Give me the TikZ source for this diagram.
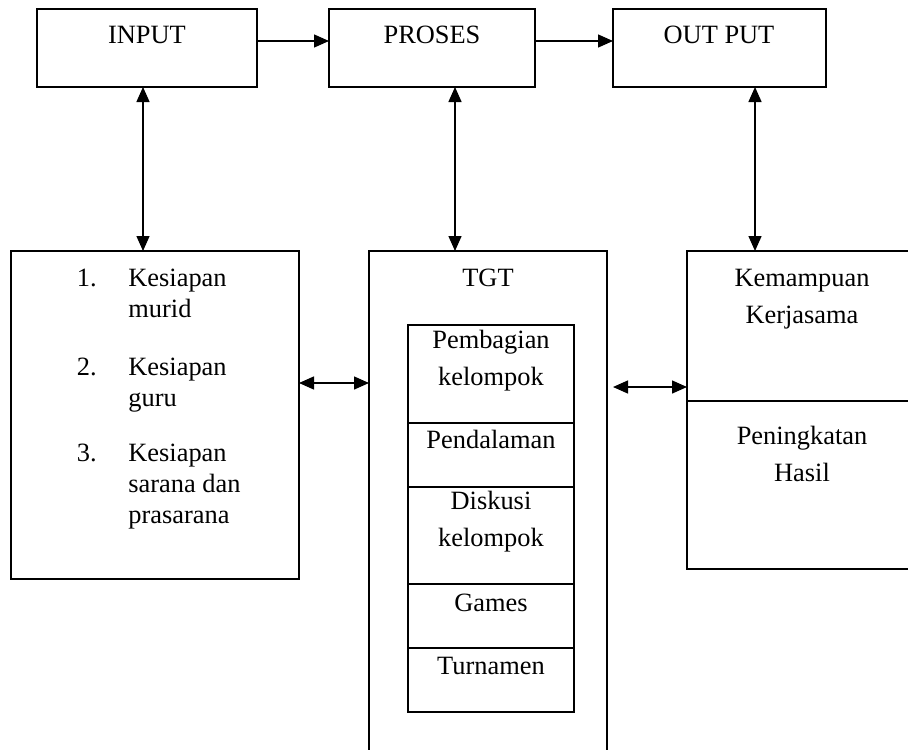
\documentclass[tikz,border=0pt]{standalone}
\usepackage{fontspec}
\setmainfont{Liberation Serif}
\usetikzlibrary{arrows.meta,positioning}

\begin{document}
\begin{tikzpicture}[x=0.5pt, y=-0.5pt,
    kotak/.style={draw, line width=0.9pt, inner sep=0pt, outer sep=0pt},
    fase/.style={draw, line width=1pt, inner sep=0pt, outer sep=0pt, minimum width=83pt},
    teks/.style={anchor=base, inner sep=0pt, align=center, font=\fontsize{13.2}{18.5}\selectfont},
    daftar/.style={inner sep=0pt, align=left, font=\fontsize{13.2}{15.5}\selectfont},
    panah/.style={line width=0.7pt, -{Triangle[length=7.5pt,width=6.5pt]}},
    duapanah/.style={line width=0.7pt, {Triangle[length=7.5pt,width=6.5pt]}-{Triangle[length=7.5pt,width=6.5pt]}}]

    % Frame
    \useasboundingbox (0,0) rectangle (908,749);
    \clip (0,0) rectangle (908,749);

    % Top row
    \node[kotak, minimum width=110pt, minimum height=39pt] (input) at (147,48) {};
    \node[kotak, minimum width=103pt, minimum height=39pt] (proses) at (432,48) {};
    \node[kotak, minimum width=106.5pt, minimum height=39pt] (output) at (719.5,48) {};

    \node[teks] (tInput) at (147,44) {INPUT};
    \node[teks] (tProses) at (432,44) {PROSES};
    \node[teks] (tOutput) at (719,44) {OUT PUT};

    % Bottom row
    \node[kotak, minimum width=144pt, minimum height=164pt] (siap) at (155,415) {};
    \node[kotak, line width=0.7pt, minimum width=119pt, minimum height=260pt] (tgt) at (488,511) {};
    \node[kotak, minimum width=114pt, minimum height=159pt] (hasil) at (801,410) {};

    % Divider in the right box
    \coordinate (garis) at (0,401);
    \draw[line width=0.9pt] (hasil.west |- garis) -- (hasil.east |- garis);

    % Steps of TGT
    \node[fase, minimum height=49pt, below=37pt of tgt.north, xshift=1.5pt] (f1) {};
    \node[fase, minimum height=32pt, below=0pt of f1] (f2) {};
    \node[fase, minimum height=48.5pt, below=0pt of f2] (f3) {};
    \node[fase, minimum height=32pt, below=0pt of f3] (f4) {};
    \node[fase, minimum height=32pt, below=0pt of f4] (f5) {};

    % Labels (base = last line)
    \node[teks] (tTgt) at (488,286) {TGT};
    \node[teks] (tF1) at (491,385) {Pembagian\\kelompok};
    \node[teks] (tF2) at (491,448) {Pendalaman};
    \node[teks] (tF3) at (491,546) {Diskusi\\kelompok};
    \node[teks] (tF4) at (491,611) {Games};
    \node[teks] (tF5) at (491,674) {Turnamen};

    \node[teks] (tKerja) at (802,323) {Kemampuan\\Kerjasama};
    \node[teks] (tHasil) at (802,481) {Peningkatan\\Hasil};

    \node[daftar, anchor=base east] (n1) at (97,286) {1.};
    \node[daftar, anchor=base east] (n2) at (97,375) {2.};
    \node[daftar, anchor=base east] (n3) at (97,461) {3.};
    \node[daftar, anchor=base west] (s1) at (128,317) {Kesiapan\\murid};
    \node[daftar, anchor=base west] (s2) at (128,406) {Kesiapan\\guru};
    \node[daftar, anchor=base west] (s3) at (128,523) {Kesiapan\\sarana dan\\prasarana};

    % Arrows
    \draw[panah] ([yshift=3.5pt]input.east) -- ([yshift=3.5pt]proses.west);
    \draw[panah] ([yshift=3.5pt]proses.east) -- ([yshift=3.5pt]output.west);

    \coordinate (vA) at (143,0);
    \coordinate (vB) at (455,0);
    \coordinate (vC) at (755,0);
    \draw[duapanah] (input.south -| vA) -- (siap.north -| vA);
    \draw[duapanah] (proses.south -| vB) -- (tgt.north -| vB);
    \draw[duapanah] (output.south -| vC) -- (hasil.north -| vC);

    \coordinate (hA) at (0,383);
    \coordinate (hB) at (613,387);
    \draw[duapanah] (siap.east |- hA) -- (tgt.west |- hA);
    \draw[duapanah] (hB) -- (hasil.west |- hB);

\end{tikzpicture}
\end{document}
